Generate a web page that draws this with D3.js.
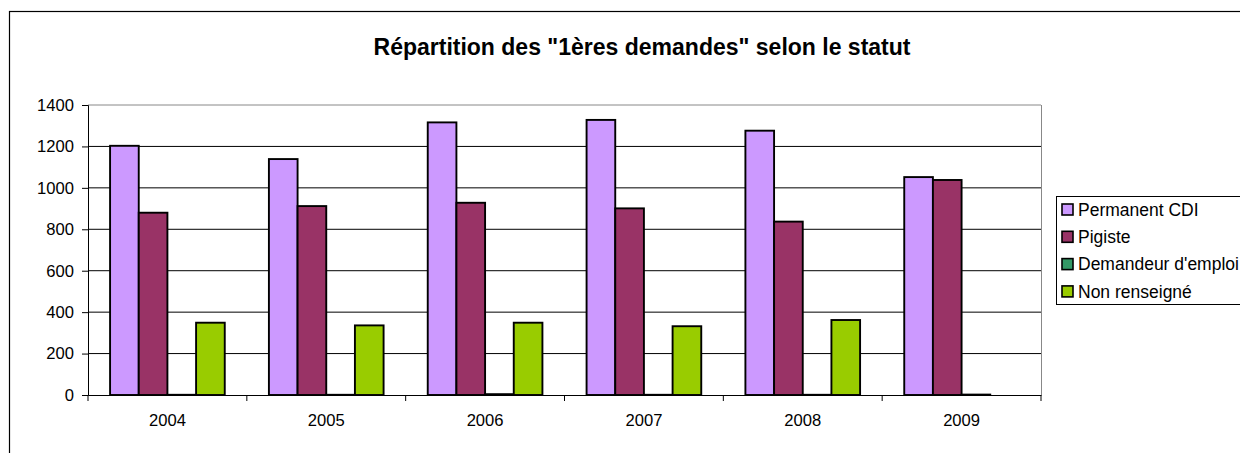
<!DOCTYPE html>
<html>
<head>
<meta charset="utf-8">
<script src="https://cdn.jsdelivr.net/npm/d3@7"></script>
<style>
  body { margin: 0; background: #fff; }
  svg { display: block; font-family: "Liberation Sans", Arial, sans-serif; }
</style>
</head>
<body>
<svg id="chart"></svg>
<script>
const width = 1240, height = 453;
const margin = { top: 105, right: 199, bottom: 58, left: 88 };
const font = "'Liberation Sans', Arial, sans-serif";

// data
const years = ["2004", "2005", "2006", "2007", "2008", "2009"];
const seriesNames = ["Permanent CDI", "Pigiste", "Demandeur d'emploi", "Non renseigné"];
const permanentCDI = [1203, 1139, 1316, 1328, 1276, 1052];
const pigiste = [880, 912, 928, 901, 837, 1038];
const demandeurEmploi = [1, 1, 4, 1, 1, 2];
const nonRenseigne = [349, 336, 349, 332, 362, 0];
const colors = ["#CC99FF", "#993366", "#339966", "#99CC00"];
const yTicks = [0, 200, 400, 600, 800, 1000, 1200, 1400];
const title = "Répartition des \"1ères demandes\" selon le statut";

const seriesValues = [permanentCDI, pigiste, demandeurEmploi, nonRenseigne];

const svg = d3.select("#chart").attr("width", width).attr("height", height);

// outer chart frame
svg.append("rect")
    .attr("x", 9.5).attr("y", 11.5)
    .attr("width", width).attr("height", height)
    .attr("fill", "none").attr("stroke", "#000").attr("stroke-width", 1.2);

svg.append("text")
    .attr("x", 642).attr("y", 55)
    .attr("text-anchor", "middle")
    .attr("font-weight", "bold")
    .attr("font-size", "23px")
    .text(title);

const x = d3.scaleBand()
    .domain(years)
    .range([margin.left, width - margin.right])
    .padding(0);

const xInner = d3.scaleBand()
    .domain(d3.range(seriesNames.length))
    .range([0, x.bandwidth()])
    .paddingInner(0)
    .paddingOuter(0.77);

const y = d3.scaleLinear()
    .domain([0, 1400])
    .range([height - margin.bottom, margin.top]);

// gridlines
svg.append("g")
    .selectAll("line")
    .data(yTicks.slice(1))
    .join("line")
    .attr("x1", margin.left).attr("x2", width - margin.right)
    .attr("y1", d => y(d)).attr("y2", d => y(d))
    .attr("stroke", d => d === 1400 ? "#888" : "#000")
    .attr("stroke-width", 1);

// right edge of plot area
svg.append("line")
    .attr("x1", width - margin.right + 0.5).attr("x2", width - margin.right + 0.5)
    .attr("y1", y(1400)).attr("y2", y(0))
    .attr("stroke", "#888");

// bars
const groups = svg.append("g")
    .selectAll("g")
    .data(years)
    .join("g")
    .attr("transform", d => `translate(${x(d)},0)`);

groups.selectAll("rect")
    .data((d, i) => seriesValues.map((s, k) => ({ k, v: s[i] })))
    .join("rect")
    .attr("x", d => xInner(d.k))
    .attr("width", xInner.bandwidth())
    .attr("y", d => y(d.v))
    .attr("height", d => y(0) - y(d.v))
    .attr("fill", d => colors[d.k])
    .attr("stroke", "#000")
    .attr("stroke-width", d => d.v > 0 ? 1.9 : 0);

// axes
const yAxis = g => g
    .attr("transform", `translate(${margin.left},0)`)
    .call(d3.axisLeft(y).tickValues(yTicks).tickFormat(d3.format("d")).tickSize(6).tickPadding(8))
    .call(g => g.selectAll("text")
        .attr("fill", "#000").attr("font-family", font).attr("font-size", "16.6px"))
    .call(g => g.selectAll("line, path").attr("stroke", "#000"));

const xAxis = g => g
    .attr("transform", `translate(0,${y(0)})`)
    .call(d3.axisBottom(x).tickSize(0).tickPadding(19))
    .call(g => g.selectAll("text")
        .attr("fill", "#000").attr("font-family", font).attr("font-size", "16.6px"))
    .call(g => g.select(".domain").attr("stroke", "#000"));

svg.append("g").call(yAxis);
svg.append("g").call(xAxis);

// category separator ticks
svg.append("g")
    .selectAll("line")
    .data(years.concat(["end"]))
    .join("line")
    .attr("x1", (d, i) => margin.left + i * x.step())
    .attr("x2", (d, i) => margin.left + i * x.step())
    .attr("y1", y(0)).attr("y2", y(0) + 6)
    .attr("stroke", "#000");

// legend
const legend = svg.append("g").attr("transform", "translate(1056,196)");
legend.append("rect")
    .attr("x", 0.5).attr("y", 0.5)
    .attr("width", 200).attr("height", 108)
    .attr("fill", "#fff").attr("stroke", "#000");

const item = legend.selectAll("g.item")
    .data(seriesNames)
    .join("g")
    .attr("class", "item")
    .attr("transform", (d, i) => `translate(6,${13.5 + i * 27.3})`);

item.append("rect")
    .attr("x", 0).attr("y", -5.5)
    .attr("width", 11).attr("height", 11)
    .attr("fill", (d, i) => colors[i])
    .attr("stroke", "#000").attr("stroke-width", 1.6);

item.append("text")
    .attr("x", 16).attr("y", 6.2)
    .attr("font-size", "17.5px")
    .text(d => d);
</script>
</body>
</html>
